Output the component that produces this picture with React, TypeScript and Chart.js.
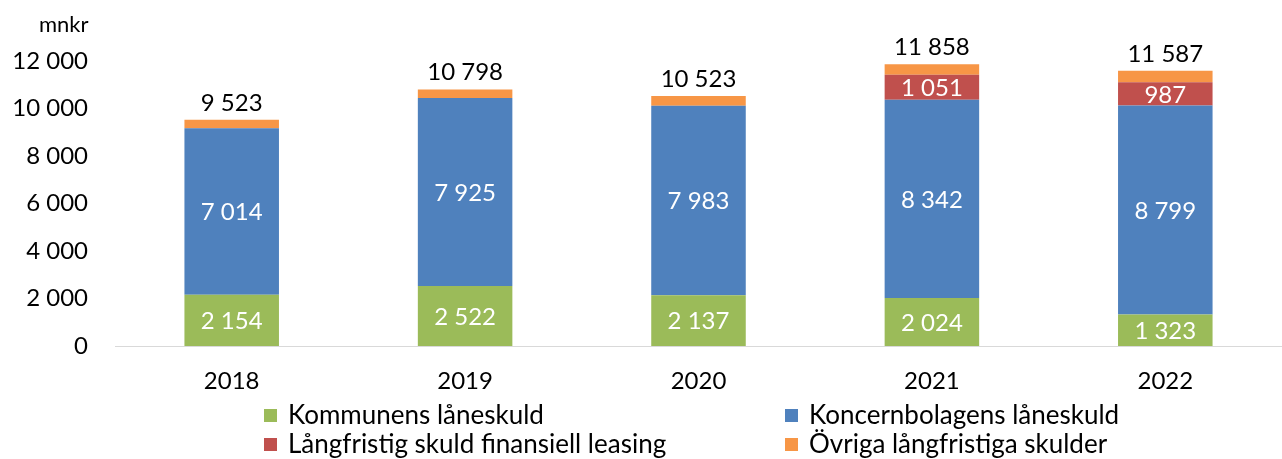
import React, { useEffect, useRef } from "react";
import { Chart, registerables } from "chart.js";

Chart.register(...registerables);

const years = ["2018", "2019", "2020", "2021", "2022"];
const kommunens = [2154, 2522, 2137, 2024, 1323];
const koncern = [7014, 7925, 7983, 8342, 8799];
const leasing = [0, 0, 0, 1051, 987];
const ovriga = [355, 351, 403, 441, 478];
const totals = [9523, 10798, 10523, 11858, 11587];
const labelsInBar = [true, true, true, false];
const seriesNames = [
  "Kommunens låneskuld",
  "Koncernbolagens låneskuld",
  "Långfristig skuld finansiell leasing",
  "Övriga långfristiga skulder",
];
const colors = ["#9BBB59", "#4F81BD", "#C0504D", "#F79646"];

const FONT = "Lato, 'Open Sans', sans-serif";
const fmt = (v: number) => String(v).replace(/\B(?=(\d{3})+(?!\d))/g, " ");

const labelsPlugin = {
  id: "customLabels",
  afterDatasetsDraw(chart: any) {
    const ctx = chart.ctx;
    ctx.save();
    ctx.textAlign = "center";
    ctx.textBaseline = "middle";
    ctx.font = `24px ${FONT}`;
    chart.data.datasets.forEach((ds: any, di: number) => {
      if (!labelsInBar[di]) return;
      const meta = chart.getDatasetMeta(di);
      meta.data.forEach((bar: any, i: number) => {
        const v = ds.data[i];
        if (!v) return;
        const y = (bar.y + bar.base) / 2;
        ctx.fillStyle = "#FFFFFF";
        ctx.fillText(fmt(v), bar.x, y + 1);
      });
    });
    // totals
    const lastMeta = chart.getDatasetMeta(chart.data.datasets.length - 1);
    ctx.fillStyle = "#000000";
    lastMeta.data.forEach((bar: any, i: number) => {
      ctx.fillText(fmt(totals[i]), bar.x, bar.y - 17);
    });
    // unit
    ctx.textAlign = "left";
    ctx.font = `22px ${FONT}`;
    ctx.fillText("mnkr", 39, 25);
    // legend
    ctx.font = `26px ${FONT}`;
    const cols = [264, 785];
    const rows = [415, 444];
    seriesNames.forEach((name, k) => {
      const x = cols[k % 2];
      const y = rows[Math.floor(k / 2)];
      ctx.fillStyle = colors[k];
      ctx.fillRect(x, y - 6, 13, 13);
      ctx.fillStyle = "#000000";
      ctx.fillText(name, x + 24, y + 1);
    });
    ctx.restore();
  },
};

export default function App() {
  const ref = useRef<HTMLCanvasElement>(null);
  useEffect(() => {
    document.body.style.margin = "0";
    const chart = new Chart(ref.current!, {
      type: "bar",
      data: {
        labels: years,
        datasets: [kommunens, koncern, leasing, ovriga].map((d, k) => ({
          label: seriesNames[k],
          data: d,
          backgroundColor: colors[k],
          borderWidth: 0,
          barPercentage: 0.405,
          categoryPercentage: 1,
        })),
      },
      options: {
        animation: false,
        responsive: false,
        layout: { padding: { top: 61, left: 0, right: 0, bottom: 0 } },
        plugins: { legend: { display: false }, tooltip: { enabled: false } },
        scales: {
          x: {
            stacked: true,
            grid: { display: false, drawTicks: false },
            border: { display: true, color: "#D9D9D9", width: 1 },
            ticks: { color: "#000", font: { family: FONT, size: 24 }, padding: 21 },
            afterFit: (s: any) => { s.height = 113; },
          },
          y: {
            stacked: true,
            min: 0,
            max: 12000,
            grid: { display: false, drawTicks: false },
            border: { display: false },
            ticks: {
              stepSize: 2000,
              color: "#000",
              font: { family: FONT, size: 24 },
              padding: 27,
              callback: (v: any) => fmt(Number(v)),
            },
            afterFit: (s: any) => { s.width = 115; },
          },
        },
      },
      plugins: [labelsPlugin],
    });
    return () => chart.destroy();
  }, []);
  return (
    <div style={{ width: 1282, height: 459 }}>
      <canvas ref={ref} width={1282} height={459} style={{ display: "block" }} />
    </div>
  );
}
